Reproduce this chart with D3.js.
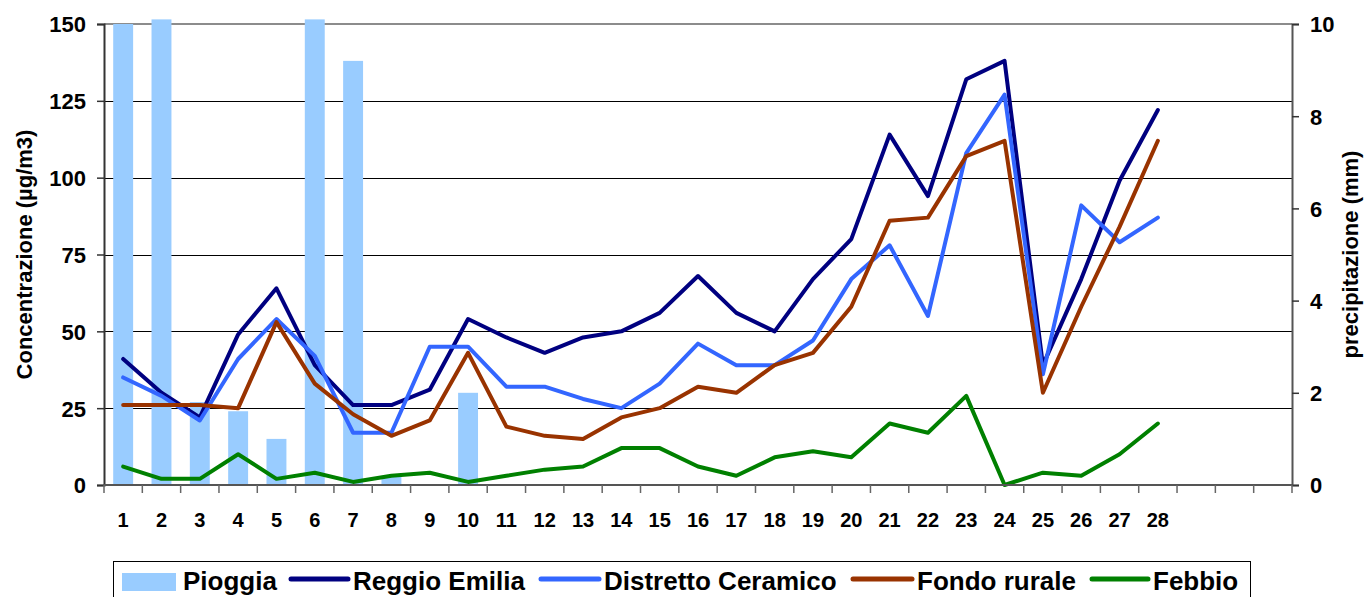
<!DOCTYPE html>
<html>
<head>
<meta charset="utf-8">
<script src="https://cdn.jsdelivr.net/npm/d3@7"></script>
<style>
  html, body { margin: 0; padding: 0; background: #fff; }
  svg { display: block; }
  text { font-family: "Liberation Sans", Arial, Helvetica, sans-serif; font-weight: bold; fill: #000; }
</style>
</head>
<body>
<svg id="chart" width="1364" height="597"></svg>
<script>
// ---------- DATA ----------
const categories = [1,2,3,4,5,6,7,8,9,10,11,12,13,14,15,16,17,18,19,20,21,22,23,24,25,26,27,28,29,30,31];
const tickLabels = ["1","2","3","4","5","6","7","8","9","10","11","12","13","14","15","16","17","18","19","20","21","22","23","24","25","26","27","28","","",""];
const leftTicks = [0,25,50,75,100,125,150];
const rightTicks = [0,2,4,6,8,10];

const pioggia = [10, 10.1, 1.8, 1.6, 1.0, 10.1, 9.2, 0.2, 0, 2.0, 0, 0, 0, 0, 0, 0, 0, 0, 0, 0, 0, 0, 0, 0, 0, 0, 0, 0];
const reggioEmilia = [41, 30, 22, 49, 64, 39, 26, 26, 31, 54, 48, 43, 48, 50, 56, 68, 56, 50, 67, 80, 114, 94, 132, 138, 39, 67, 99, 122];
const distrettoCeramico = [35, 29, 21, 41, 54, 42, 17, 17, 45, 45, 32, 32, 28, 25, 33, 46, 39, 39, 47, 67, 78, 55, 108, 127, 36, 91, 79, 87];
const fondoRurale = [26, 26, 26, 25, 53, 33, 23, 16, 21, 43, 19, 16, 15, 22, 25, 32, 30, 39, 43, 58, 86, 87, 107, 112, 30, 58, 84, 112];
const febbio = [6, 2, 2, 10, 2, 4, 1, 3, 4, 1, 3, 5, 6, 12, 12, 6, 3, 9, 11, 9, 20, 17, 29, 0, 4, 3, 10, 20];

const seriesNames = ["Pioggia", "Reggio Emilia", "Distretto Ceramico", "Fondo rurale", "Febbio"];
const seriesColors = ["#99CCFF", "#000080", "#3366FF", "#993300", "#008000"];

// ---------- LAYOUT ----------
const svg = d3.select("#chart");
const plot = { left: 104, right: 1292, top: 24, bottom: 485 };

const x = d3.scaleBand().domain(categories).range([plot.left, plot.right]).padding(0);
const yL = d3.scaleLinear().domain([0, 150]).range([plot.bottom, plot.top]);
const yR = d3.scaleLinear().domain([0, 10]).range([plot.bottom, plot.top]);

// gridlines
svg.append("g").selectAll("line")
  .data(leftTicks.filter(d => d > 0 && d < 150))
  .join("line")
  .attr("x1", plot.left).attr("x2", plot.right)
  .attr("y1", d => Math.round(yL(d)) + 0.5).attr("y2", d => Math.round(yL(d)) + 0.5)
  .attr("stroke", "#000").attr("stroke-width", 1);
// top border line (150)
svg.append("line")
  .attr("x1", plot.left).attr("x2", plot.right)
  .attr("y1", yL(150)).attr("y2", yL(150))
  .attr("stroke", "#8c8c8c").attr("stroke-width", 2);

// bars (right axis)
const barW = x.bandwidth() * 0.52;
svg.append("g").selectAll("rect")
  .data(pioggia.map((v, i) => ({ c: categories[i], v })))
  .join("rect")
  .attr("x", d => x(d.c) + (x.bandwidth() - barW) / 2)
  .attr("width", barW)
  .attr("y", d => yR(d.v))
  .attr("height", d => plot.bottom - yR(d.v))
  .attr("fill", seriesColors[0]);

// lines
const lineGen = d3.line()
  .x((d, i) => x(categories[i]) + x.bandwidth() / 2)
  .y(d => yL(d));
[reggioEmilia, distrettoCeramico, fondoRurale, febbio].forEach((s, k) => {
  svg.append("path")
    .attr("d", lineGen(s))
    .attr("fill", "none")
    .attr("stroke", seriesColors[k + 1])
    .attr("stroke-width", 4)
    .attr("stroke-linejoin", "round")
    .attr("stroke-linecap", "round");
});

// left axis
const axL = d3.axisLeft(yL).tickValues(leftTicks).tickSize(7).tickPadding(11);
const gL = svg.append("g").attr("transform", `translate(${plot.left},0)`).call(axL);
gL.select(".domain").attr("stroke", "#333").attr("stroke-width", 2);
gL.selectAll(".tick line").attr("stroke", "#333").attr("stroke-width", 1.5);
gL.selectAll(".tick text").attr("font-size", 22).attr("font-family", null).attr("dy", "0.36em");

// right axis
const axR = d3.axisRight(yR).tickValues(rightTicks).tickSize(7).tickPadding(11);
const gR = svg.append("g").attr("transform", `translate(${plot.right},0)`).call(axR);
gR.select(".domain").attr("stroke", "#555").attr("stroke-width", 2);
gR.selectAll(".tick line").attr("stroke", "#333").attr("stroke-width", 1.5);
gR.selectAll(".tick text").attr("font-size", 22).attr("font-family", null).attr("dy", "0.36em");

// bottom axis: ticks at category boundaries
const boundaries = categories.map(c => x(c)).concat([plot.right]);
svg.append("line")
  .attr("x1", plot.left).attr("x2", plot.right)
  .attr("y1", plot.bottom).attr("y2", plot.bottom)
  .attr("stroke", "#555").attr("stroke-width", 2);
svg.append("g").selectAll("line")
  .data(boundaries)
  .join("line")
  .attr("x1", d => d).attr("x2", d => d)
  .attr("y1", plot.bottom).attr("y2", plot.bottom + 8)
  .attr("stroke", "#666").attr("stroke-width", 1.5);
svg.append("g").selectAll("text")
  .data(categories)
  .join("text")
  .attr("x", d => x(d) + x.bandwidth() / 2)
  .attr("y", 527)
  .attr("text-anchor", "middle")
  .attr("font-size", 20)
  .text((d, i) => tickLabels[i]);

// axis titles
svg.append("text")
  .attr("transform", `translate(32,${(plot.top + plot.bottom) / 2}) rotate(-90)`)
  .attr("text-anchor", "middle")
  .attr("font-size", 22)
  .text("Concentrazione (µg/m3)");
svg.append("text")
  .attr("transform", `translate(1358,${(plot.top + plot.bottom) / 2}) rotate(-90)`)
  .attr("text-anchor", "middle")
  .attr("font-size", 22)
  .text("precipitazione (mm)");

// legend
const lg = svg.append("g");
lg.append("rect")
  .attr("x", 113.5).attr("y", 561.5).attr("width", 1137).attr("height", 60)
  .attr("fill", "#fff").attr("stroke", "#000").attr("stroke-width", 1);
const legendItems = [
  { name: seriesNames[0], color: seriesColors[0], type: "rect", sx: 122, ex: 176, tx: 183 },
  { name: seriesNames[1], color: seriesColors[1], type: "line", sx: 291, ex: 348, tx: 353 },
  { name: seriesNames[2], color: seriesColors[2], type: "line", sx: 541, ex: 599, tx: 604 },
  { name: seriesNames[3], color: seriesColors[3], type: "line", sx: 853, ex: 912, tx: 917 },
  { name: seriesNames[4], color: seriesColors[4], type: "line", sx: 1092, ex: 1148, tx: 1153 }
];
legendItems.forEach(it => {
  if (it.type === "rect") {
    lg.append("rect").attr("x", it.sx).attr("y", 573).attr("width", it.ex - it.sx).attr("height", 18).attr("fill", it.color);
  } else {
    lg.append("line").attr("x1", it.sx).attr("x2", it.ex).attr("y1", 579).attr("y2", 579)
      .attr("stroke", it.color).attr("stroke-width", 5).attr("stroke-linecap", "round");
  }
  lg.append("text").attr("x", it.tx).attr("y", 590).attr("font-size", 26).text(it.name);
});
</script>
</body>
</html>
